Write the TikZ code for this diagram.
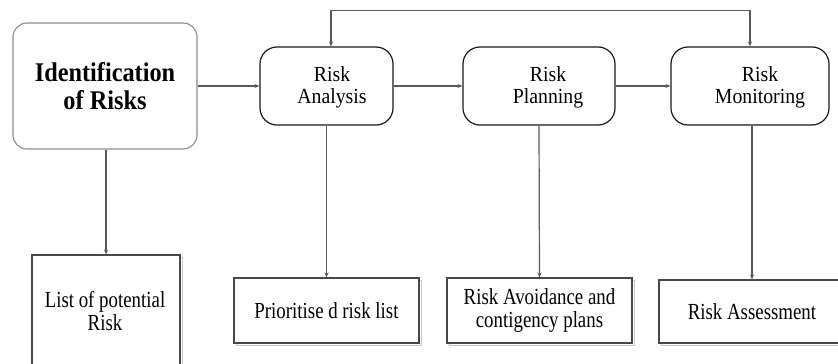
\documentclass[tikz,border=0pt]{standalone}
\usepackage{fontspec}
\setmainfont{Liberation Serif}
\newfontfamily\topfont{Liberation Serif}[FakeStretch=0.92]
\newfontfamily\botfont{Liberation Serif}[FakeStretch=0.82]
\newfontfamily\idfont{Liberation Serif}[FakeStretch=0.9]
\usetikzlibrary{arrows.meta}
\begin{document}
\begin{tikzpicture}[x=1pt,y=-1pt,
  >={Stealth[length=5pt,width=4pt]},
  rbox/.style={draw=black!90, line width=1.2pt, rounded corners=17pt, fill=white, inner sep=0pt},
  idbox/.style={draw=black!45, line width=1.1pt, rounded corners=14pt, fill=white, inner sep=0pt},
  bbox/.style={draw=black!72, line width=1.1pt, fill=white, inner sep=0pt,
    preaction={draw=black!22, line width=1pt, transform canvas={shift={(2pt,-2pt)}}}},
  toptxt/.style={font=\topfont\fontsize{21.5}{22}\selectfont, align=center, inner sep=0pt},
  bottxt/.style={font=\botfont\fontsize{23}{23}\selectfont, align=center, inner sep=0pt},
  arr/.style={draw=black!65, line width=1.2pt, ->},
]
\clip (0,0) rectangle (838,364);
\fill[white] (0,0) rectangle (838,364);

% top row
\node[idbox, minimum width=184, minimum height=126,
      font=\idfont\bfseries\fontsize{27}{28}\selectfont, align=center] (ident) at (105,86) {Identification\\of Risks};
\node[rbox, minimum width=133, minimum height=78] (ana) at (326.5,86) {};
\node[toptxt] (anat) at (332,87) {Risk\\Analysis};
\node[rbox, minimum width=152, minimum height=78] (pla) at (539,86) {};
\node[toptxt] (plat) at (548,87) {Risk\\Planning};
\node[rbox, minimum width=158, minimum height=78] (mon) at (750,86) {};
\node[toptxt] (mont) at (760,87) {Risk\\Monitoring};

% bottom row
\node[bbox, minimum width=148, minimum height=130] (list) at (106,320) {};
\node[bottxt] (listt) at (105,311) {List of potential\\Risk};
\node[bbox, bottxt, minimum width=185, minimum height=65] (pri) at (326.5,310.5) {Prioritise d risk list};
\node[bbox, bottxt, minimum width=185, minimum height=65] (avo) at (539.5,310.5) {Risk Avoidance and\\contigency plans};
\node[bbox, bottxt, minimum width=186, minimum height=63] (ass) at (752,311.5) {Risk Assessment};

% connectors
\draw[arr] (ident.east) -- (ident.east -| ana.west);
\draw[arr] (ana.east) -- (ana.east -| pla.west);
\draw[arr] (pla.east) -- (pla.east -| mon.west);
\draw[arr] (ident.south -| list.north) -- (list.north);
\draw[arr] (ana.south) -- (pri.north);
\draw[arr] (pla.south) -- (avo.north);
\draw[arr] (mon.south -| ass.north) -- (ass.north);
\draw[arr, <->] ([xshift=4.5pt]ana.north) -- ++(0,-36) -| (mon.north);
\end{tikzpicture}
\end{document}
